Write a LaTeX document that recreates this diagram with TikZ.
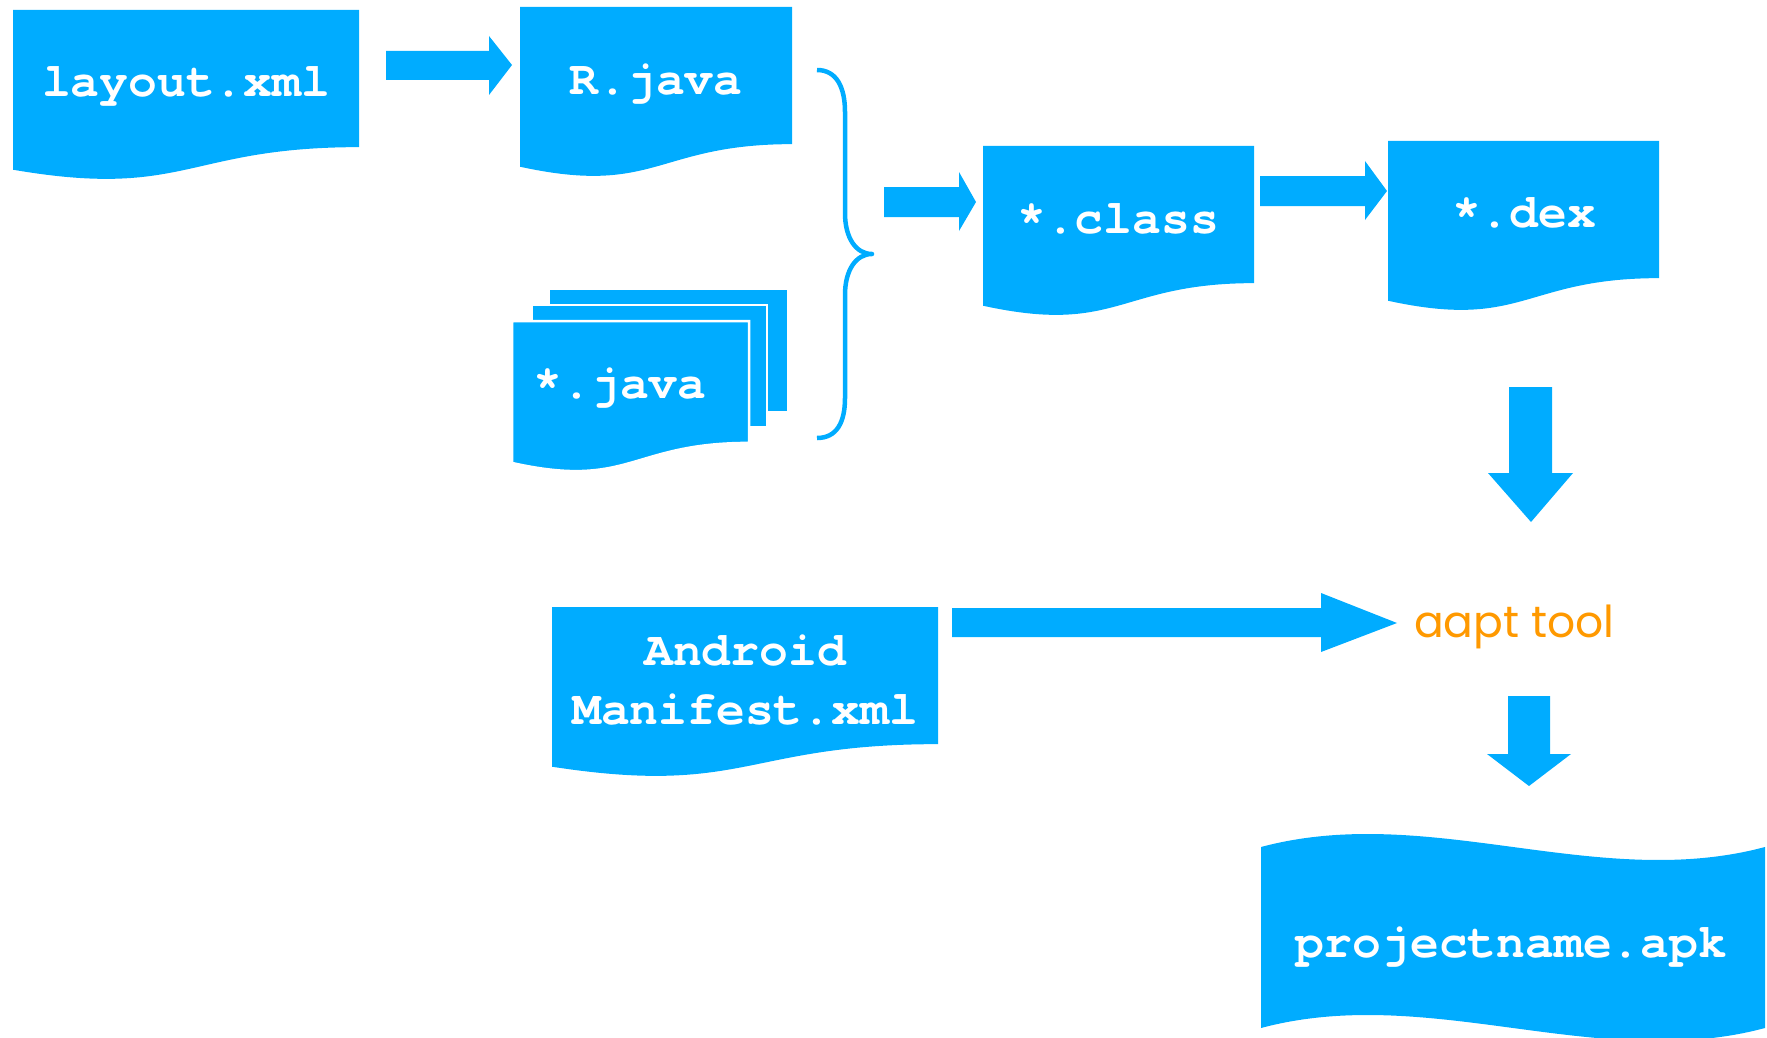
\documentclass[tikz,border=0pt]{standalone}
\usepackage{fontspec}
\newfontfamily\codefont{texgyrecursor}[Extension=.otf,UprightFont=*-regular,BoldFont=*-bold]
\newfontfamily\toolfont{Poppins}
\definecolor{flowblue}{RGB}{0,172,255}
\definecolor{tooltext}{RGB}{255,153,0}
\newcommand\docshape[6][]{% opts, name, x, y, w, h
  \pgfmathsetmacro\dxa{#3+#5}\pgfmathsetmacro\dxm{#3+0.5*#5}%
  \pgfmathsetmacro\dya{#4+0.802*#6}\pgfmathsetmacro\dyb{#4+1.108*#6}\pgfmathsetmacro\dyc{#4+0.934*#6}%
  \fill[flowblue,#1] (#3,#4) -- (\dxa,#4) -- (\dxa,\dya) .. controls (\dxm,\dya) and (\dxm,\dyb) .. (#3,\dyc) -- cycle;
  \coordinate (#2) at (\dxm,#4);}
\begin{document}
\begin{tikzpicture}[x=1pt,y=-1pt,
  doctext/.style={text=white,inner sep=0pt,anchor=base,font=\codefont\bfseries\fontsize{48}{59}\selectfont},
  blockarrow/.style={fill=flowblue},
  bracestyle/.style={draw=flowblue,line width=4.5pt,line join=round}]
\useasboundingbox (0,0) rectangle (1767,1038);
\clip (0,0) rectangle (1767,1038);

% documents
\docshape{layout}{13}{10}{346}{171}
\node[doctext] (layouttxt) at (186,97) {layout.xml};

\docshape{rjava}{520}{7}{272}{171}
\node[doctext] (rjavatxt) at (656,95) {R.java};

% multi-document *.java
\fill[flowblue] (550,290) rectangle (787,411);
\filldraw[fill=flowblue,draw=white,line width=2.5pt] (532,305) rectangle (767,427);
\docshape[draw=white,line width=2.5pt]{java}{512}{321}{237}{152}
\node[doctext] (javatxt) at (620,398) {*.java};

\docshape{class}{983}{146}{271}{171}
\node[doctext] (classtxt) at (1118,233) {*.class};

\docshape{dex}{1388}{141}{271}{171}
\node[doctext] (dextxt) at (1524,227) {*.dex};

\docshape{manifest}{552}{607}{386}{171}
\node[doctext] (mantxtA) at (745,665) {Android};
\node[doctext] (mantxtB) at (745,724) {Manifest.xml};

% wave shape projectname.apk
\fill[flowblue] (1261,847) .. controls (1429,802) and (1597,892) .. (1765,847)
  -- (1765,1028) .. controls (1597,1073) and (1429,983) .. (1261,1028) -- cycle;
\node[doctext] (apktxt) at (1511,957) {projectname.apk};

% aapt tool
\node[inner sep=0pt,anchor=base west,text=tooltext,font=\toolfont\fontsize{44}{53}\selectfont] (aapt) at (1414,637) {aapt tool};

% brace
\draw[bracestyle] (817,70) .. controls (837,70) and (845,88) .. (845,112) -- (845,213)
  .. controls (845,238) and (856,254) .. (872,254)
  .. controls (856,254) and (845,270) .. (845,295) -- (845,398)
  .. controls (845,422) and (837,438) .. (817,438);

% block arrows
\fill[blockarrow] (386,51) -- (489,51) -- (489,36) -- (512,65) -- (489,95) -- (489,80) -- (386,80) -- cycle;
\fill[blockarrow] (884,187) -- (959,187) -- (959,172) -- (976,202) -- (959,231) -- (959,217) -- (884,217) -- cycle;
\fill[blockarrow] (1260,176) -- (1365,176) -- (1365,161) -- (1387,191) -- (1365,220) -- (1365,206) -- (1260,206) -- cycle;
\fill[blockarrow] (1509,387) -- (1552,387) -- (1552,473) -- (1573,473) -- (1531,522) -- (1488,473) -- (1509,473) -- cycle;
\fill[blockarrow] (952,608) -- (1321,608) -- (1321,593) -- (1397,623) -- (1321,652) -- (1321,637) -- (952,637) -- cycle;
\fill[blockarrow] (1508,696) -- (1550,696) -- (1550,754) -- (1571,754) -- (1529,786) -- (1487,754) -- (1508,754) -- cycle;
\end{tikzpicture}
\end{document}
